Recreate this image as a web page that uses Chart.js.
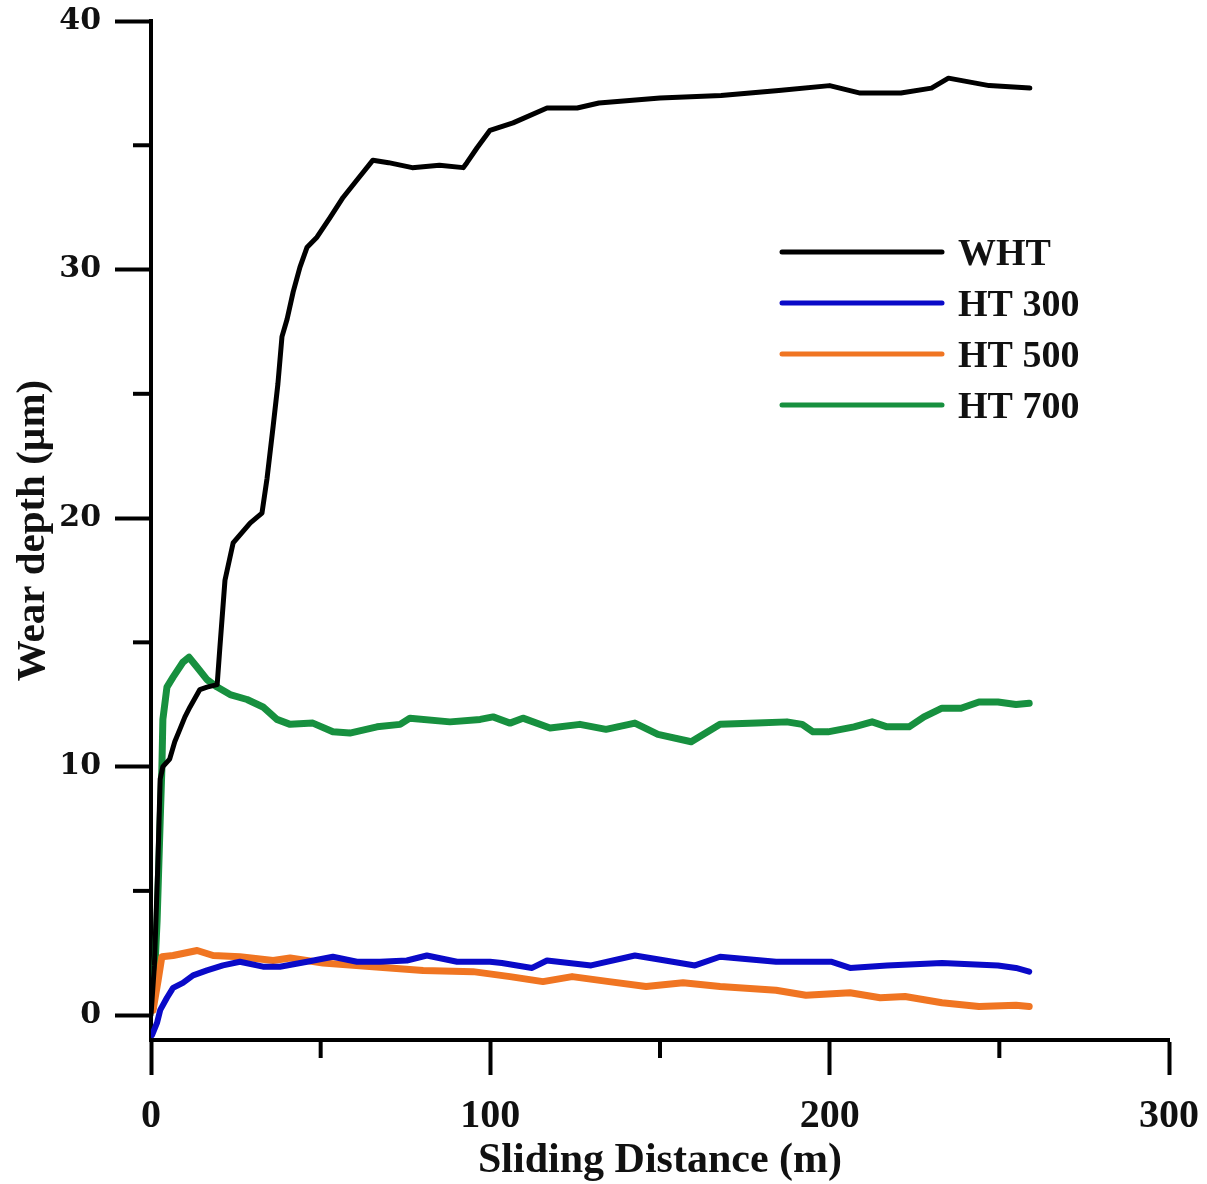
<!DOCTYPE html>
<html>
<head>
<meta charset="utf-8">
<title>Wear depth vs sliding distance</title>
<script src="https://cdn.jsdelivr.net/npm/chart.js@4.4.1/dist/chart.umd.min.js"></script>
<style>
  html, body { margin: 0; padding: 0; background: #fff; }
  #wrap { width: 1207px; height: 1184px; position: relative; }
</style>
</head>
<body>
<div id="wrap"><canvas id="wearChart" width="1207" height="1184"></canvas></div>
<script>
// Sliding distance (m) / wear depth (µm) for each heat treatment
const whtDist  = [0, 1, 2, 2.7, 3.5, 5.5, 7, 8.5, 10, 11.5, 14.4, 16.5, 19.5, 20.3, 21.8, 24.2, 29.2, 32.7, 34.2, 36, 37.4, 38.6, 40.1, 41.9, 43.9, 46, 48.9, 52.8, 56.6, 60.7, 65.4, 70, 77, 85, 92, 93.1, 96.1, 99.9, 106.7, 116.7, 125.6, 132, 150, 168, 185, 200, 209, 221, 230, 235, 247, 259];
const whtDepth = [0, 2, 6, 9.5, 10.0, 10.3, 11.0, 11.5, 12.0, 12.4, 13.1, 13.2, 13.3, 14.8, 17.5, 19.0, 19.8, 20.2, 21.6, 23.7, 25.4, 27.3, 28.0, 29.1, 30.1, 30.9, 31.3, 32.1, 32.9, 33.6, 34.4, 34.3, 34.1, 34.2, 34.1, 34.3, 34.9, 35.6, 35.9, 36.5, 36.5, 36.7, 36.9, 37.0, 37.2, 37.4, 37.1, 37.1, 37.3, 37.7, 37.4, 37.3];

const ht300Dist  = [0.3, 1.8, 2.7, 4.7, 6.5, 9.4, 12.4, 16.5, 21.2, 26.2, 33, 38, 46, 53.6, 60.7, 67.5, 75.4, 81.3, 90.2, 99.9, 103.4, 112.3, 116.7, 129.7, 142.6, 151.5, 160.3, 167.7, 184.2, 200.4, 206, 216.9, 233.1, 249.6, 254.9, 258.8];
const ht300Depth = [-0.8, -0.3, 0.2, 0.7, 1.1, 1.3, 1.6, 1.8, 2.0, 2.15, 1.95, 1.95, 2.15, 2.35, 2.15, 2.15, 2.2, 2.4, 2.15, 2.15, 2.1, 1.9, 2.2, 2.0, 2.4, 2.2, 2.0, 2.35, 2.15, 2.15, 1.9, 2.0, 2.1, 2.0, 1.9, 1.75];

const ht500Dist  = [0.6, 2.1, 3.2, 6.5, 13.6, 18.3, 26.2, 36, 41, 50.7, 65.4, 80.2, 94.9, 105.8, 115.5, 124.1, 135, 145.9, 156.8, 167.7, 184.2, 193, 206, 214.9, 222.2, 233.1, 244, 254.9, 258.8];
const ht500Depth = [0.2, 1.4, 2.35, 2.4, 2.6, 2.4, 2.35, 2.2, 2.3, 2.1, 1.95, 1.8, 1.75, 1.55, 1.35, 1.55, 1.35, 1.15, 1.3, 1.15, 1.0, 0.8, 0.9, 0.7, 0.75, 0.5, 0.35, 0.4, 0.35];

const ht700Dist  = [0.6, 1.8, 2.7, 3.2, 3.5, 4.7, 6.5, 9.4, 11.2, 13.6, 16.5, 19.5, 23.3, 28.3, 33, 37.1, 41, 47.7, 53.6, 58.6, 66.6, 73.4, 76.3, 88.1, 97, 100.8, 105.8, 109.6, 117.6, 126.4, 134.1, 142.6, 149.4, 159.2, 167.7, 178.6, 187.4, 191.9, 195.1, 199.5, 207.2, 212.5, 216.9, 223.4, 227.8, 233.1, 238.7, 244, 249.6, 254.9, 258.8];
const ht700Depth = [0.3, 3.8, 7.8, 9.9, 11.9, 13.2, 13.6, 14.2, 14.4, 14.0, 13.5, 13.2, 12.9, 12.7, 12.4, 11.9, 11.7, 11.75, 11.4, 11.35, 11.6, 11.7, 11.95, 11.8, 11.9, 12.0, 11.75, 11.95, 11.55, 11.7, 11.5, 11.75, 11.3, 11.0, 11.7, 11.75, 11.8, 11.7, 11.4, 11.4, 11.6, 11.8, 11.6, 11.6, 12.0, 12.35, 12.35, 12.6, 12.6, 12.5, 12.55];

const seriesNames = ['WHT', 'HT 300', 'HT 500', 'HT 700'];
const seriesColors = ['#000000', '#0a0ac8', '#f07522', '#17903f'];

const xTicks = [0, 50, 100, 150, 200, 250, 300];
const yTicks = [0, 5, 10, 15, 20, 25, 30, 35, 40];

const toPoints = (xs, ys) => xs.map((x, i) => ({ x: x, y: ys[i] }));
const series = [
  toPoints(whtDist, whtDepth),
  toPoints(ht300Dist, ht300Depth),
  toPoints(ht500Dist, ht500Depth),
  toPoints(ht700Dist, ht700Depth)
];
const lineWidths = [5, 6, 7, 7];

const serif = '"Liberation Serif", "Times New Roman", serif';

// short minor tick marks (the library draws only the long major ones)
const minorTicks = {
  id: 'minorTicks',
  afterDraw(chart) {
    const ctx = chart.ctx;
    const xs = chart.scales.x, ys = chart.scales.y;
    ctx.save();
    ctx.strokeStyle = '#000';
    ctx.lineWidth = 4;
    ys.ticks.forEach(t => {
      if (t.value % 10 === 0) return;
      const py = ys.getPixelForValue(t.value);
      ctx.beginPath();
      ctx.moveTo(ys.right - 18, py);
      ctx.lineTo(ys.right, py);
      ctx.stroke();
    });
    xs.ticks.forEach(t => {
      if (t.value % 100 === 0) return;
      const px = xs.getPixelForValue(t.value);
      ctx.beginPath();
      ctx.moveTo(px, xs.top);
      ctx.lineTo(px, xs.top + 18);
      ctx.stroke();
    });
    ctx.restore();
  }
};

// legend inside the plot, upper right
const insetLegend = {
  id: 'insetLegend',
  afterDraw(chart) {
    const ctx = chart.ctx;
    ctx.save();
    ctx.font = 'bold 38px ' + serif;
    ctx.textBaseline = 'alphabetic';
    ctx.textAlign = 'left';
    chart.data.datasets.forEach((ds, i) => {
      const y = 252 + i * 51;
      ctx.strokeStyle = ds.borderColor;
      ctx.lineWidth = 5;
      ctx.lineCap = 'round';
      ctx.beginPath();
      ctx.moveTo(782, y);
      ctx.lineTo(942, y);
      ctx.stroke();
      ctx.fillStyle = '#111';
      ctx.fillText(ds.label, 958, y + 13);
    });
    ctx.restore();
  }
};

// keep the plot box fixed: no extra room reserved for edge labels
const noEdgePadding = s => {
  s.paddingTop = 0;
  s.paddingBottom = 0;
  s.paddingLeft = 0;
  s.paddingRight = 0;
};

new Chart(document.getElementById('wearChart'), {
  type: 'line',
  data: {
    datasets: series.map((pts, i) => ({
      label: seriesNames[i],
      data: pts,
      borderColor: seriesColors[i],
      backgroundColor: seriesColors[i],
      borderWidth: lineWidths[i],
      pointRadius: 0,
      tension: 0,
      borderJoinStyle: 'round',
      borderCapStyle: 'round',
      fill: false
    }))
  },
  options: {
    responsive: false,
    animation: false,
    layout: { padding: { top: 21, right: 38, left: 0, bottom: 0 } },
    plugins: {
      legend: { display: false },
      tooltip: { enabled: false }
    },
    scales: {
      x: {
        type: 'linear',
        min: 0,
        max: 300,
        afterBuildTicks: s => { s.ticks = xTicks.map(v => ({ value: v })); },
        afterFit: s => { s.height = 144; noEdgePadding(s); },
        border: { display: true, color: '#000', width: 4 },
        grid: {
          drawOnChartArea: false,
          tickLength: 35,
          tickWidth: 4,
          tickColor: c => (c.tick && c.tick.value % 100 === 0) ? '#000' : 'rgba(0,0,0,0)'
        },
        ticks: {
          padding: 18,
          color: '#111',
          maxRotation: 0,
          font: { family: serif, size: 40, weight: 'bold' },
          callback: v => (v % 100 === 0 ? String(v) : '')
        },
        title: {
          display: true,
          text: 'Sliding Distance (m)',
          color: '#111',
          padding: { top: 0, bottom: -2 },
          font: { family: serif, size: 42, weight: 'bold' }
        }
      },
      y: {
        type: 'linear',
        min: -1,
        max: 40,
        afterBuildTicks: s => { s.ticks = yTicks.map(v => ({ value: v })); },
        afterFit: s => { s.width = 151; noEdgePadding(s); },
        border: { display: true, color: '#000', width: 4 },
        grid: {
          drawOnChartArea: false,
          tickLength: 36,
          tickWidth: 4,
          tickColor: c => (c.tick && c.tick.value % 10 === 0) ? '#000' : 'rgba(0,0,0,0)'
        },
        ticks: {
          padding: 14,
          color: '#111',
          font: { family: '"DejaVu Serif", serif', size: 30, weight: 'bold' },
          callback: v => (v % 10 === 0 ? String(v) : '')
        },
        title: {
          display: true,
          text: 'Wear depth (µm)',
          color: '#111',
          padding: { top: 9, bottom: 0 },
          font: { family: serif, size: 41, weight: 'bold' }
        }
      }
    }
  },
  plugins: [minorTicks, insetLegend]
});
</script>
</body>
</html>
